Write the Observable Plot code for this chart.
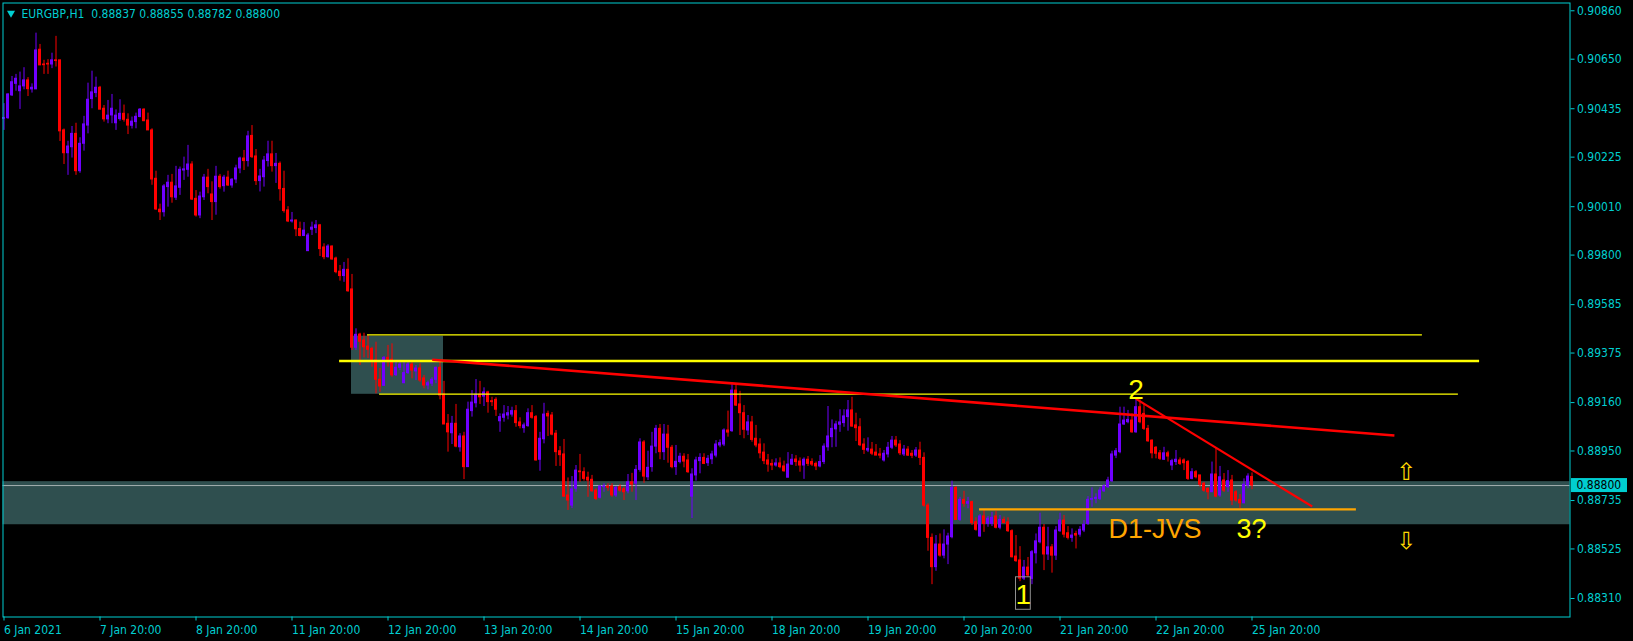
<!DOCTYPE html>
<html><head><meta charset="utf-8">
<script src="https://cdn.jsdelivr.net/npm/d3@7"></script>
<script src="https://cdn.jsdelivr.net/npm/@observablehq/plot@0.6"></script>
<style>
html,body{margin:0;padding:0;background:#000;overflow:hidden;}
</style></head><body><div id="chart"></div>
<script>
// ---------- data: EURGBP H1, bar index 0 = 6 Jan 2021 20:00 ----------
const opens = [
0.90391,0.90394,0.90493,0.90543,0.90511,0.90532,0.90558,0.90519,0.90519,0.90691,
0.90627,0.90630,0.90627,0.90645,0.90645,0.90341,0.90242,0.90268,0.90326,0.90164,
0.90283,0.90362,0.90477,0.90503,0.90526,0.90435,0.90389,0.90406,0.90372,0.90390,
0.90413,0.90387,0.90361,0.90377,0.90399,0.90431,0.90384,0.90341,0.90131,0.89997,
0.89986,0.90095,0.90114,0.90049,0.90092,0.90167,0.90170,0.90193,0.90044,0.89972,
0.90051,0.90136,0.90063,0.90030,0.90140,0.90099,0.90136,0.90102,0.90128,0.90176,
0.90219,0.90208,0.90317,0.90228,0.90121,0.90138,0.90208,0.90237,0.90186,0.90196,
0.90087,0.89994,0.89946,0.89950,0.89913,0.89883,0.89817,0.89910,0.89917,0.89929,
0.89833,0.89791,0.89837,0.89785,0.89728,0.89709,0.89736,0.89651,0.89398,0.89455,
0.89429,0.89403,0.89393,0.89343,0.89259,0.89233,0.89354,0.89346,0.89279,0.89311,
0.89244,0.89288,0.89325,0.89295,0.89308,0.89265,0.89234,0.89242,0.89259,0.89311,
0.89195,0.89068,0.89027,0.89068,0.88966,0.89013,0.88880,0.89123,0.89157,0.89194,
0.89186,0.89204,0.89166,0.89172,0.89079,0.89094,0.89104,0.89108,0.89123,0.89074,
0.89049,0.89058,0.89114,0.89097,0.88912,0.89001,0.89111,0.89104,0.89025,0.88949,
0.88935,0.88757,0.88713,0.88786,0.88861,0.88858,0.88834,0.88825,0.88778,0.88747,
0.88793,0.88796,0.88796,0.88757,0.88793,0.88784,0.88775,0.88814,0.88808,0.88868,
0.88987,0.88836,0.88880,0.88969,0.89046,0.88945,0.89021,0.88964,0.88880,0.88902,
0.88925,0.88909,0.88752,0.88844,0.88906,0.88920,0.88897,0.88914,0.88930,0.88974,
0.88978,0.89039,0.89036,0.89212,0.89152,0.89114,0.89039,0.89074,0.89003,0.88978,
0.88943,0.88909,0.88894,0.88887,0.88896,0.88883,0.88834,0.88891,0.88913,0.88904,
0.88887,0.88912,0.88902,0.88894,0.88883,0.88902,0.88966,0.89010,0.89044,0.89064,
0.89071,0.89097,0.89126,0.89061,0.89053,0.88978,0.88952,0.88956,0.88943,0.88935,
0.88909,0.88935,0.88964,0.88995,0.88978,0.88935,0.88956,0.88938,0.88930,0.88952,
0.88920,0.88713,0.88573,0.88446,0.88544,0.88496,0.88544,0.88576,0.88790,0.88651,
0.88738,0.88721,0.88728,0.88641,0.88579,0.88666,0.88634,0.88634,0.88666,0.88617,
0.88651,0.88640,0.88602,0.88492,0.88475,0.88396,0.88444,0.88395,0.88506,0.88554,
0.88617,0.88501,0.88532,0.88496,0.88602,0.88648,0.88593,0.88573,0.88590,0.88587,
0.88605,0.88634,0.88738,0.88742,0.88742,0.88775,0.88793,0.88819,0.88930,0.88945,
0.89065,0.89075,0.89082,0.89031,0.89140,0.89111,0.89046,0.88995,0.88964,0.88940,
0.88912,0.88940,0.88887,0.88902,0.88909,0.88909,0.88902,0.88829,0.88858,0.88844,
0.88808,0.88786,0.88771,0.88848,0.88757,0.88822,0.88793,0.88822,0.88771,0.88738,
0.88723,0.88800,0.88837];
const highs = [
0.90457,0.90500,0.90575,0.90584,0.90594,0.90613,0.90570,0.90543,0.90763,0.90714,
0.90645,0.90648,0.90676,0.90749,0.90645,0.90347,0.90294,0.90358,0.90372,0.90309,
0.90402,0.90546,0.90598,0.90572,0.90532,0.90449,0.90471,0.90497,0.90430,0.90474,
0.90451,0.90413,0.90399,0.90416,0.90436,0.90435,0.90416,0.90348,0.90164,0.90021,
0.90106,0.90146,0.90150,0.90185,0.90182,0.90225,0.90276,0.90205,0.90080,0.90073,
0.90150,0.90172,0.90118,0.90185,0.90150,0.90146,0.90164,0.90132,0.90190,0.90225,
0.90254,0.90337,0.90362,0.90258,0.90172,0.90228,0.90294,0.90294,0.90241,0.90204,
0.90164,0.90010,0.89985,0.89952,0.89943,0.89941,0.89894,0.89943,0.89950,0.89933,
0.89849,0.89845,0.89840,0.89791,0.89755,0.89768,0.89784,0.89716,0.89480,0.89461,
0.89461,0.89451,0.89400,0.89422,0.89308,0.89360,0.89408,0.89415,0.89343,0.89343,
0.89343,0.89335,0.89343,0.89321,0.89328,0.89278,0.89253,0.89268,0.89314,0.89343,
0.89252,0.89108,0.89100,0.89152,0.89025,0.89031,0.89162,0.89212,0.89260,0.89252,
0.89224,0.89209,0.89183,0.89181,0.89111,0.89147,0.89143,0.89140,0.89147,0.89094,
0.89071,0.89133,0.89147,0.89104,0.89031,0.89157,0.89123,0.89117,0.89039,0.88969,
0.89000,0.88833,0.88839,0.88887,0.88935,0.88877,0.88858,0.88844,0.88786,0.88800,
0.88808,0.88808,0.88808,0.88796,0.88804,0.88793,0.88848,0.88853,0.88887,0.89003,
0.88995,0.88949,0.89031,0.89061,0.89065,0.89065,0.89061,0.88974,0.88974,0.88940,
0.88938,0.88935,0.88873,0.88923,0.88938,0.88938,0.88930,0.88949,0.88995,0.88998,
0.89046,0.89123,0.89238,0.89234,0.89209,0.89147,0.89104,0.89100,0.89061,0.89003,
0.88981,0.88935,0.88912,0.88916,0.88920,0.88906,0.88943,0.88935,0.88930,0.88920,
0.88920,0.88926,0.88916,0.88902,0.88930,0.88981,0.89143,0.89085,0.89079,0.89129,
0.89129,0.89169,0.89183,0.89114,0.89090,0.89003,0.89007,0.88987,0.88978,0.88961,
0.88952,0.88987,0.89013,0.89013,0.88995,0.88974,0.88969,0.88952,0.88965,0.88988,
0.88942,0.88721,0.88590,0.88583,0.88590,0.88608,0.88593,0.88819,0.88796,0.88749,
0.88775,0.88749,0.88732,0.88660,0.88674,0.88692,0.88666,0.88684,0.88688,0.88670,
0.88663,0.88660,0.88608,0.88583,0.88535,0.88475,0.88488,0.88518,0.88590,0.88680,
0.88631,0.88619,0.88544,0.88622,0.88680,0.88670,0.88622,0.88612,0.88602,0.88622,
0.88648,0.88752,0.88790,0.88764,0.88791,0.88804,0.88836,0.88949,0.88961,0.89140,
0.89140,0.89126,0.89111,0.89176,0.89172,0.89155,0.89061,0.88998,0.88969,0.88952,
0.88966,0.88949,0.88914,0.88952,0.88920,0.88916,0.88909,0.88873,0.88865,0.88844,
0.88814,0.88790,0.88902,0.88964,0.88883,0.88852,0.88865,0.88844,0.88778,0.88761,
0.88829,0.88851,0.88855];
const lows = [
0.90341,0.90389,0.90488,0.90511,0.90432,0.90517,0.90488,0.90503,0.90519,0.90623,
0.90584,0.90584,0.90609,0.90616,0.90293,0.90193,0.90146,0.90221,0.90146,0.90155,
0.90251,0.90326,0.90435,0.90483,0.90431,0.90377,0.90370,0.90370,0.90341,0.90381,
0.90377,0.90323,0.90347,0.90348,0.90396,0.90379,0.90341,0.90103,0.89994,0.89950,
0.89965,0.90008,0.90025,0.90037,0.90059,0.90124,0.90138,0.90037,0.89965,0.89958,
0.90037,0.90066,0.89950,0.89973,0.90086,0.90073,0.90098,0.90090,0.90110,0.90153,
0.90167,0.90182,0.90219,0.90102,0.90074,0.90095,0.90182,0.90160,0.90111,0.90034,
0.89982,0.89941,0.89939,0.89880,0.89879,0.89880,0.89816,0.89885,0.89893,0.89794,
0.89780,0.89787,0.89778,0.89719,0.89687,0.89682,0.89639,0.89386,0.89386,0.89321,
0.89354,0.89351,0.89314,0.89198,0.89205,0.89230,0.89314,0.89270,0.89273,0.89299,
0.89242,0.89282,0.89263,0.89256,0.89248,0.89220,0.89215,0.89230,0.89242,0.89172,
0.89065,0.88945,0.88978,0.88964,0.88945,0.88826,0.88880,0.89097,0.89137,0.89152,
0.89143,0.89114,0.89143,0.89100,0.89031,0.89075,0.89085,0.89097,0.89053,0.89046,
0.89027,0.89053,0.89088,0.88906,0.88862,0.88981,0.89013,0.89016,0.88883,0.88883,
0.88749,0.88692,0.88700,0.88771,0.88814,0.88819,0.88749,0.88771,0.88735,0.88742,
0.88771,0.88775,0.88749,0.88749,0.88771,0.88735,0.88764,0.88771,0.88735,0.88858,
0.88810,0.88822,0.88858,0.88938,0.88912,0.88909,0.88897,0.88873,0.88844,0.88894,
0.88877,0.88853,0.88657,0.88819,0.88851,0.88891,0.88883,0.88891,0.88920,0.88964,
0.88969,0.89010,0.89031,0.89143,0.89017,0.89003,0.89017,0.88988,0.88964,0.88916,
0.88891,0.88858,0.88865,0.88880,0.88873,0.88858,0.88834,0.88887,0.88883,0.88858,
0.88827,0.88883,0.88883,0.88865,0.88877,0.88891,0.88949,0.88964,0.88966,0.89031,
0.89053,0.89036,0.89053,0.88991,0.88969,0.88935,0.88943,0.88930,0.88930,0.88916,
0.88902,0.88920,0.88956,0.88965,0.88930,0.88926,0.88926,0.88917,0.88922,0.88887,
0.88706,0.88515,0.88370,0.88428,0.88489,0.88482,0.88457,0.88569,0.88648,0.88645,
0.88706,0.88699,0.88627,0.88602,0.88576,0.88597,0.88619,0.88622,0.88612,0.88608,
0.88634,0.88597,0.88486,0.88467,0.88383,0.88388,0.88401,0.88370,0.88460,0.88547,
0.88431,0.88475,0.88420,0.88475,0.88597,0.88573,0.88564,0.88554,0.88525,0.88576,
0.88596,0.88627,0.88706,0.88721,0.88735,0.88770,0.88787,0.88813,0.88917,0.88938,
0.89061,0.89068,0.89027,0.89027,0.89068,0.89039,0.88988,0.88916,0.88916,0.88909,
0.88909,0.88902,0.88865,0.88887,0.88887,0.88865,0.88822,0.88825,0.88829,0.88793,
0.88771,0.88738,0.88771,0.88747,0.88749,0.88770,0.88771,0.88713,0.88728,0.88700,
0.88721,0.88786,0.88782];
const closes = [
0.90395,0.90497,0.90550,0.90565,0.90532,0.90558,0.90520,0.90526,0.90688,0.90623,
0.90624,0.90627,0.90645,0.90642,0.90337,0.90242,0.90271,0.90326,0.90164,0.90283,
0.90367,0.90474,0.90506,0.90526,0.90431,0.90389,0.90405,0.90435,0.90405,0.90413,
0.90387,0.90362,0.90379,0.90400,0.90431,0.90381,0.90341,0.90128,0.89998,0.89986,
0.90098,0.90114,0.90051,0.90098,0.90170,0.90172,0.90193,0.90041,0.89972,0.90054,
0.90136,0.90095,0.90030,0.90140,0.90095,0.90136,0.90102,0.90127,0.90176,0.90219,
0.90208,0.90315,0.90225,0.90121,0.90141,0.90210,0.90237,0.90186,0.90196,0.90086,
0.89991,0.89946,0.89950,0.89912,0.89883,0.89906,0.89885,0.89919,0.89929,0.89826,
0.89791,0.89837,0.89781,0.89726,0.89709,0.89736,0.89643,0.89398,0.89454,0.89424,
0.89400,0.89389,0.89343,0.89259,0.89230,0.89354,0.89346,0.89278,0.89311,0.89325,
0.89288,0.89325,0.89299,0.89308,0.89256,0.89234,0.89244,0.89259,0.89311,0.89191,
0.89065,0.89031,0.89068,0.88969,0.89013,0.88880,0.89129,0.89160,0.89194,0.89183,
0.89204,0.89162,0.89162,0.89129,0.89097,0.89108,0.89114,0.89123,0.89071,0.89058,
0.89061,0.89114,0.89094,0.88909,0.89003,0.89108,0.89100,0.89021,0.88945,0.88932,
0.88752,0.88735,0.88783,0.88865,0.88858,0.88829,0.88822,0.88775,0.88742,0.88796,
0.88796,0.88790,0.88757,0.88790,0.88778,0.88771,0.88814,0.88804,0.88868,0.88987,
0.88839,0.88877,0.88969,0.89046,0.88945,0.89021,0.88964,0.88880,0.88903,0.88925,
0.88904,0.88858,0.88848,0.88909,0.88920,0.88894,0.88916,0.88935,0.88978,0.88984,
0.89039,0.89030,0.89212,0.89147,0.89114,0.89042,0.89074,0.88998,0.88974,0.88940,
0.88906,0.88891,0.88887,0.88896,0.88880,0.88862,0.88891,0.88912,0.88902,0.88887,
0.88912,0.88894,0.88891,0.88883,0.88902,0.88969,0.89013,0.89046,0.89065,0.89074,
0.89100,0.89126,0.89056,0.89049,0.88975,0.88955,0.88959,0.88938,0.88930,0.88930,
0.88938,0.88964,0.88995,0.88974,0.88940,0.88956,0.88930,0.88929,0.88952,0.88920,
0.88713,0.88573,0.88446,0.88544,0.88496,0.88544,0.88579,0.88790,0.88651,0.88738,
0.88721,0.88728,0.88637,0.88608,0.88666,0.88634,0.88656,0.88660,0.88617,0.88651,
0.88637,0.88602,0.88489,0.88472,0.88396,0.88444,0.88410,0.88511,0.88558,0.88617,
0.88501,0.88532,0.88496,0.88605,0.88648,0.88587,0.88573,0.88583,0.88583,0.88608,
0.88630,0.88738,0.88742,0.88747,0.88778,0.88796,0.88822,0.88935,0.88949,0.89065,
0.89082,0.89085,0.89031,0.89140,0.89075,0.89046,0.88992,0.88940,0.88938,0.88916,
0.88940,0.88926,0.88906,0.88912,0.88894,0.88897,0.88829,0.88858,0.88836,0.88804,
0.88778,0.88771,0.88848,0.88752,0.88836,0.88778,0.88819,0.88735,0.88735,0.88723,
0.88804,0.88839,0.88800];

// axis ticks
const priceTicks = [0.90860,0.90650,0.90435,0.90225,0.90010,0.89800,0.89585,0.89375,0.89160,0.88950,0.88735,0.88525,0.88310];
const dateTickBars = [0,24,48,72,96,120,144,168,192,216,240,264,288,312];
const dateTickLabels = ["6 Jan 2021","7 Jan 20:00","8 Jan 20:00","11 Jan 20:00","12 Jan 20:00","13 Jan 20:00","14 Jan 20:00","15 Jan 20:00","18 Jan 20:00","19 Jan 20:00","20 Jan 20:00","21 Jan 20:00","22 Jan 20:00","25 Jan 20:00"];
const symbolTitle = "EURGBP,H1";

// drawn objects (bar index, price)
const zonePrices = [0.88630, 0.88817];
const boxBars = [86.875, 109.875];
const boxPrices = [0.89448, 0.89196];
const thinYellow = [{x1: 90.875, x2: 354.6, y: 0.89454}, {x1: 93.9, x2: 363.6, y: 0.89197}];
const thickYellow = [{x1: 83.9, x2: 368.9, y: 0.89340}];
const orangeLevel = [{x1: 243.9, x2: 338.1, y: 0.88697}];
const trendLong = [{x1: 107.05, y1: 0.89346, x2: 347.6, y2: 0.89017}];
const trendShort = [{x1: 283, y1: 0.89176, x2: 327.05, y2: 0.88709}];
const waveBox = [{x1: 253.0, x2: 256.7, y1: 0.88402, y2: 0.88261}];
const waveLabels = [{t: "2", x: 283, y: 0.89215}, {t: "1", x: 254.85, y: 0.88327}];
const noteLabels = [{t: "D1-JVS", x: 276.1, y: 0.88611, c: "#FFA500"}, {t: "3?", x: 308.1, y: 0.88611, c: "#FFFF00"}];
const arrows = [{t: "\u21E7", x: 350.6, y: 0.88857}, {t: "\u21E9", x: 350.6, y: 0.88557}];

// ---------- chart ----------
const CYAN = "#00CED1", VIOLET = "#7000FF", RED = "#FF0000", ZONE = "#2F4F4F";
const UIFONT = '"DejaVu Sans Condensed", "Liberation Sans", sans-serif';
const BIGFONT = '"Liberation Sans", Arial, sans-serif';
const xDomain = [-0.25, 391.5];
const yDomain = [0.882297, 0.908938];

const bars = closes.map((c, i) => ({i, o: opens[i], h: highs[i], l: lows[i], c, col: c >= opens[i] ? VIOLET : RED}));
const last = bars[bars.length - 1];
const header = `${symbolTitle}  ${[last.o, last.h, last.l, last.c].map(d3.format(".5f")).join(" ")}`;

function priceTag(index, scales, values, dims) {
  const y = scales.y(last.c);
  const x0 = dims.width - dims.marginRight + 1.5;
  const g = d3.create("svg:g");
  g.append("rect").attr("x", x0).attr("y", y - 7).attr("width", 56).attr("height", 14).attr("fill", CYAN);
  g.append("text").attr("x", x0 + 5.5).attr("y", y).attr("dy", "0.36em")
    .attr("text-anchor", "start")
    .attr("fill", "#000").attr("font-size", 12).attr("font-family", UIFONT)
    .text(d3.format(".5f")(last.c));
  return g.node();
}

const chart = Plot.plot({
  width: 1633, height: 641,
  marginLeft: 2.5, marginRight: 63.5, marginTop: 2.5, marginBottom: 24.5,
  x: {type: "linear", domain: xDomain},
  y: {type: "linear", domain: yDomain},
  color: {type: "identity"},
  style: {background: "#000", color: CYAN, fontFamily: UIFONT, fontSize: "12px", overflow: "visible"},
  marks: [
    Plot.rect([zonePrices], {x1: () => xDomain[0], x2: () => xDomain[1], y1: d => d[0], y2: d => d[1], fill: ZONE}),
    Plot.rect([0], {x1: () => boxBars[0], x2: () => boxBars[1], y1: () => boxPrices[0], y2: () => boxPrices[1], fill: ZONE}),
    Plot.ruleY([last.c], {stroke: "#A4B0B0", strokeWidth: 1}),
    Plot.ruleX(bars, {x: "i", y1: "l", y2: "h", stroke: "col", strokeWidth: 1}),
    Plot.rect(bars, {x1: d => d.i - 0.375, x2: d => d.i + 0.375, y1: "o", y2: "c", fill: "col", insetTop: -0.5, insetBottom: -0.5}),
    Plot.ruleY(thinYellow, {x1: "x1", x2: "x2", y: "y", stroke: "#FFFF00", strokeWidth: 1.2}),
    Plot.ruleY(thickYellow, {x1: "x1", x2: "x2", y: "y", stroke: "#FFFF00", strokeWidth: 2.5}),
    Plot.ruleY(orangeLevel, {x1: "x1", x2: "x2", y: "y", stroke: "#FFA500", strokeWidth: 2.2}),
    Plot.link(trendLong, {x1: "x1", y1: "y1", x2: "x2", y2: "y2", stroke: RED, strokeWidth: 2.6}),
    Plot.link(trendShort, {x1: "x1", y1: "y1", x2: "x2", y2: "y2", stroke: RED, strokeWidth: 2.2}),
    Plot.rect(waveBox, {x1: "x1", x2: "x2", y1: "y1", y2: "y2", fill: "none", stroke: "#909090", strokeWidth: 1}),
    Plot.text(waveLabels, {x: "x", y: "y", text: "t", fill: "#FFFF00", fontSize: 28, fontFamily: BIGFONT}),
    Plot.text(noteLabels, {x: "x", y: "y", text: "t", fill: "c", fontSize: 27, fontFamily: BIGFONT, textAnchor: "start"}),
    Plot.text(arrows, {x: "x", y: "y", text: "t", fill: "#FFD700", fontSize: 24, fontFamily: '"DejaVu Sans", sans-serif'}),
    Plot.frame({stroke: CYAN, strokeWidth: 1}),
    Plot.axisY({anchor: "right", ticks: priceTicks, tickFormat: d3.format(".5f"), tickSize: 4, tickPadding: 3, color: CYAN, fontSize: 12, fontFamily: UIFONT}),
    Plot.axisX({anchor: "bottom", ticks: dateTickBars, tickFormat: d => dateTickLabels[dateTickBars.indexOf(d)], textAnchor: "start", tickSize: 4, tickPadding: 4, color: CYAN, fontSize: 12, fontFamily: UIFONT}),
    Plot.dot([0], {frameAnchor: "top-left", dx: 8, dy: 10, symbol: "triangle", r: 3, rotate: 180, fill: CYAN, stroke: null}),
    Plot.text([header], {frameAnchor: "top-left", dx: 18.5, dy: 6.3, lineAnchor: "top", textAnchor: "start", fill: CYAN, fontSize: 12, fontFamily: UIFONT}),
    priceTag
  ]
});
document.getElementById("chart").appendChild(chart);
</script></body></html>
